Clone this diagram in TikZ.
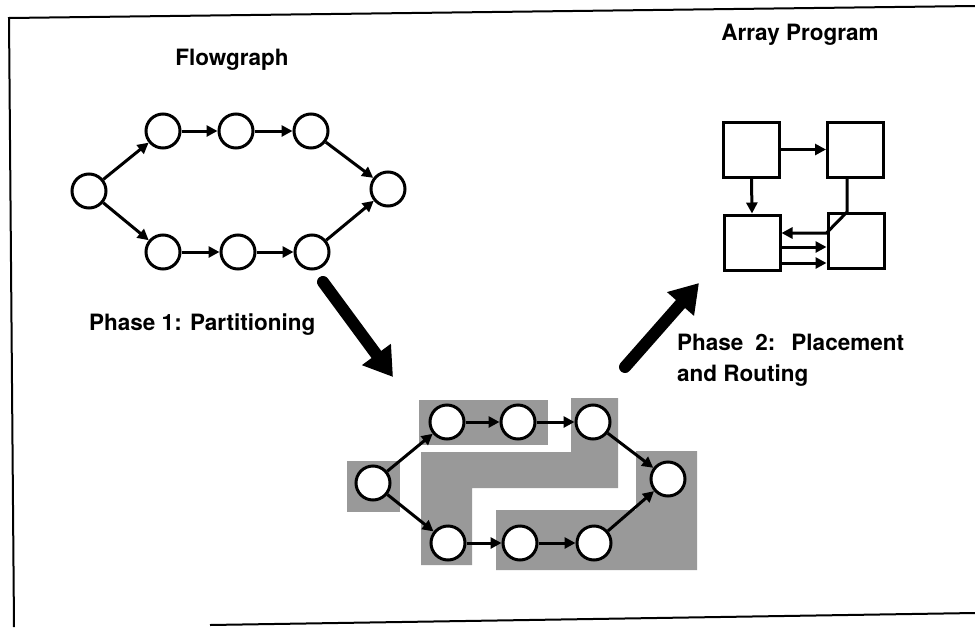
\documentclass[tikz,border=0pt]{standalone}
\usepackage{fontspec}
\setmainfont{TeX Gyre Heros}
\usepackage{tikz}
\usetikzlibrary{
    arrows.meta,
    positioning,
    calc
}
\tikzset{
    task/.style={
        draw,
        circle,
        line width=3pt,
        minimum size=34pt,
        inner sep=0pt,
        fill=white
    }
}
\tikzset{
    cell/.style={
        draw,
        line width=3pt,
        minimum width=56pt,
        minimum height=55pt,
        inner sep=0pt,
        fill=white
    }
}
\tikzset{
    flow/.style={
        draw,
        line width=3pt,
        -{Triangle[length=11pt,width=11pt]}
    }
}
\tikzset{
    phasearrow/.style={
        draw,
        line width=12pt,
        line cap=round,
        -{Triangle[length=28pt,width=34pt]}
    }
}
\tikzset{
    partbox/.style={
        fill=black!40,
        draw=none
    }
}
\tikzset{
    heading/.style={
        font=\fontsize{22.5}{31}\selectfont\bfseries,
        inner sep=0pt
    }
}

\begin{document}
\begin{tikzpicture}[
    x=1pt,
    y=-1pt
]
\useasboundingbox (0,0) rectangle (975,627);

% ------------------------------------------------------------
% Frame (scanned page edge)
% ------------------------------------------------------------
\draw[line width=2pt] (975,6) -- (9,18) -- (14,627);
\draw[line width=2pt] (210,625) -- (975,613);

% ------------------------------------------------------------
% Flowgraph
% ------------------------------------------------------------
\node[heading] (fgtitle) at (232,60) {Flowgraph};

\node[task] (fs)  at (89,191) {};
\node[task] (fa1) at (163,131) {};
\node[task] (fa2) at (236,131) {};
\node[task] (fa3) at (311,131) {};
\node[task] (fb1) at (163,252) {};
\node[task] (fb2) at (238,252) {};
\node[task] (fb3) at (312,252) {};
\node[task] (ft)  at (388,189) {};

\foreach \a/\b in {fs/fa1, fa1/fa2, fa2/fa3, fa3/ft, fs/fb1, fb1/fb2, fb2/fb3, fb3/ft} {
    \draw[flow] (\a) -- (\b);
}

% ------------------------------------------------------------
% Phase 1: partitioning
% ------------------------------------------------------------
\coordinate (p1tail) at (323,282);
\coordinate (p1tip) at (393,377);
\draw[phasearrow] (p1tail) -- (p1tip);
\node[heading, anchor=west] (p1label) at (89,325) {Phase 1: Partitioning};

% ------------------------------------------------------------
% Partitioned flowgraph
% ------------------------------------------------------------
\fill[partbox] (347,461) rectangle (400,512);
\fill[partbox] (419,400) rectangle (548,445);
\fill[partbox] (571,398) -- (618,398) -- (618,488) -- (472,488)
    -- (472,565) -- (421,565) -- (421,452) -- (571,452) -- cycle;
\fill[partbox] (496,510) -- (636,510) -- (636,451) -- (697,451)
    -- (697,570) -- (496,570) -- cycle;

\node[task] (ps)  at (373,483) {};
\node[task] (pa1) at (447,422) {};
\node[task] (pa2) at (518,422) {};
\node[task] (pa3) at (593,422) {};
\node[task] (pb1) at (448,543) {};
\node[task] (pb2) at (520,543) {};
\node[task] (pb3) at (594,543) {};
\node[task] (pt)  at (668,479) {};

\foreach \a/\b in {ps/pa1, pa1/pa2, pa2/pa3, pa3/pt, ps/pb1, pb1/pb2, pb2/pb3, pb3/pt} {
    \draw[flow] (\a) -- (\b);
}

% ------------------------------------------------------------
% Phase 2: placement and routing
% ------------------------------------------------------------
\coordinate (p2tail) at (625,367);
\coordinate (p2tip) at (699,283);
\draw[phasearrow] (p2tail) -- (p2tip);
\node[heading, anchor=north west, align=left] (p2label) at (677,334)
    {Phase\hspace{12pt}2:\hspace{16pt}Placement\\and Routing};

% ------------------------------------------------------------
% Array program
% ------------------------------------------------------------
\node[heading] (aptitle) at (800,35) {Array Program};

\node[cell] (tl) at (751.5,149.5) {};
\node[cell] (tr) at (855.5,149.5) {};
\node[cell] (bl) at (752,242.5) {};
\node[cell] (br) at (856,241) {};

\draw[flow] (tl.east) -- (tr.west);
\draw[flow] (tl.south) -- (bl.north);
\draw[flow] ($(tr.south)+(-8.5,0)$) -- ($(br.north)+(-9,0)$)
    -- ($(br.west)+(0,-8)$) -- ($(bl.east)+(0,-9.5)$);
\draw[flow] ($(bl.east)+(0,4.5)$) -- ($(br.west)+(0,6)$);
\draw[flow] ($(bl.east)+(0,20.5)$) -- ($(br.west)+(0,22)$);

\end{tikzpicture}
\end{document}
